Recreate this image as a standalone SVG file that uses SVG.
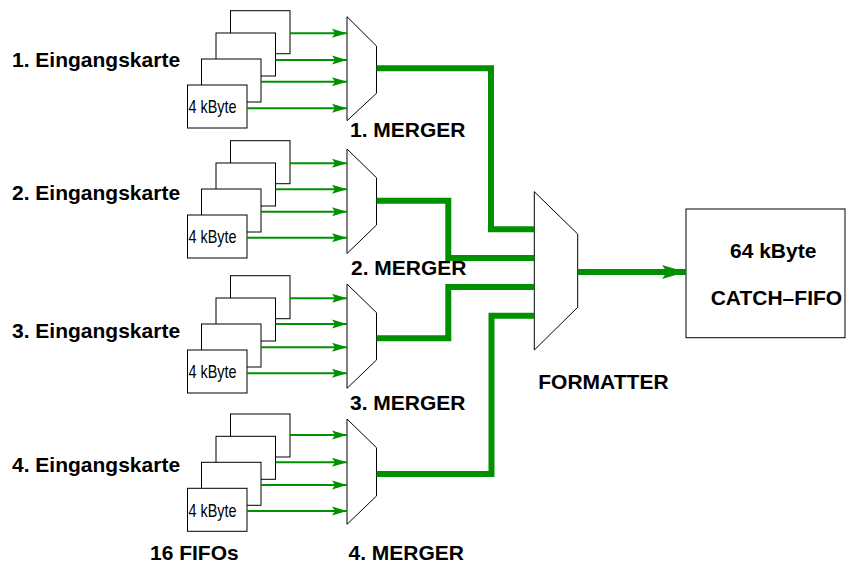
<svg xmlns="http://www.w3.org/2000/svg" width="847" height="564" viewBox="0 0 847 564">
<style>
.lbl{font-family:"Liberation Sans",Arial,sans-serif;font-weight:bold;font-size:21px;fill:#000}
.small{font-family:"Liberation Sans",Arial,sans-serif;font-size:19px;fill:#000}
.box{fill:#fff;stroke:#000;stroke-width:1}
.mux{fill:#fff;stroke:#000;stroke-width:1}
.thin{stroke:#009000;stroke-width:2;fill:none;marker-end:url(#ah)}
.thick{stroke:#009000;stroke-width:6;fill:none;stroke-linejoin:miter}
</style>
<defs>
<marker id="ah" markerUnits="userSpaceOnUse" markerWidth="16" markerHeight="9" refX="15" refY="4" orient="auto" overflow="visible">
<path d="M0,-0.5 L15,4 L0,8.5 L3,4 z" fill="#009000"/>
</marker>
<marker id="bh" markerUnits="userSpaceOnUse" markerWidth="25" markerHeight="15" refX="24" refY="7" orient="auto" overflow="visible">
<path d="M0,0 L24,7 L0,14 L5,7 z" fill="#009000"/>
</marker>
<g id="fifos">
<rect class="box" x="230.5" y="-74.3" width="59.5" height="43"/>
<rect class="box" x="216" y="-52" width="59.5" height="43"/>
<rect class="box" x="201.5" y="-26" width="59.5" height="43"/>
<rect class="box" x="187.5" y="0" width="59.5" height="43"/>
<text class="small" x="188.5" y="28.3" textLength="48" lengthAdjust="spacingAndGlyphs">4 kByte</text>
</g>
</defs>

<g id="card1">
<text class="lbl" x="12" y="67.3">1. Eingangskarte</text>
<use href="#fifos" y="85"/>
</g>
<g id="card2">
<text class="lbl" x="12" y="200">2. Eingangskarte</text>
<use href="#fifos" y="215"/>
</g>
<g id="card3">
<text class="lbl" x="12" y="338">3. Eingangskarte</text>
<use href="#fifos" y="350"/>
</g>
<g id="card4">
<text class="lbl" x="12" y="472">4. Eingangskarte</text>
<use href="#fifos" y="488.3"/>
</g>

<g id="merger1">
<polygon class="mux" points="347,16.7 376.5,46 376.5,93.3 347,120.7"/>
<text class="lbl" x="350" y="136.7">1. MERGER</text>
</g>
<g id="merger2">
<polygon class="mux" points="347,149 376.5,177.7 376.5,225 347,253.5"/>
<text class="lbl" x="351" y="275">2. MERGER</text>
</g>
<g id="merger3">
<polygon class="mux" points="347,284 376.5,312.7 376.5,360 347,388.3"/>
<text class="lbl" x="350" y="410">3. MERGER</text>
</g>
<g id="merger4">
<polygon class="mux" points="347,419 376.5,447.7 376.5,496 347,524.3"/>
<text class="lbl" x="348.5" y="559.5">4. MERGER</text>
</g>

<g id="formatter">
<polygon class="mux" points="534.3,191.7 577.7,234 577.7,307.3 534.3,350"/>
<text class="lbl" x="538.3" y="389.3">FORMATTER</text>
</g>

<g id="catchfifo">
<rect class="box" x="686" y="209" width="159" height="128.7"/>
<text class="lbl" x="730" y="258">64 kByte</text>
<text class="lbl" x="710.7" y="305">CATCH–FIFO</text>
</g>

<text id="fifolabel" class="lbl" x="150" y="559.5">16 FIFOs</text>

<g id="connectors">
<line class="thin" x1="290" y1="33.3" x2="347" y2="33.3"/>
<line class="thin" x1="275.5" y1="60" x2="347" y2="60"/>
<line class="thin" x1="261" y1="81.7" x2="347" y2="81.7"/>
<line class="thin" x1="247" y1="108.3" x2="347" y2="108.3"/>

<line class="thin" x1="290" y1="163.3" x2="347" y2="163.3"/>
<line class="thin" x1="275.5" y1="189.3" x2="347" y2="189.3"/>
<line class="thin" x1="261" y1="211.7" x2="347" y2="211.7"/>
<line class="thin" x1="247" y1="237.7" x2="347" y2="237.7"/>

<line class="thin" x1="290" y1="298.3" x2="347" y2="298.3"/>
<line class="thin" x1="275.5" y1="324" x2="347" y2="324"/>
<line class="thin" x1="261" y1="347.3" x2="347" y2="347.3"/>
<line class="thin" x1="247" y1="373.3" x2="347" y2="373.3"/>

<line class="thin" x1="290" y1="435" x2="347" y2="435"/>
<line class="thin" x1="275.5" y1="462.3" x2="347" y2="462.3"/>
<line class="thin" x1="261" y1="485" x2="347" y2="485"/>
<line class="thin" x1="247" y1="511" x2="347" y2="511"/>

<polyline class="thick" points="376.5,68.3 491,68.3 491,229.3 534.3,229.3"/>
<polyline class="thick" points="376.5,200.7 448.3,200.7 448.3,258 534.3,258"/>
<polyline class="thick" points="376.5,338.3 448.3,338.3 448.3,287 534.3,287"/>
<polyline class="thick" points="376.5,474 491.5,474 491.5,315.7 534.3,315.7"/>
<line class="thick" x1="577.7" y1="272" x2="686" y2="272" marker-end="url(#bh)"/>
</g>
</svg>
